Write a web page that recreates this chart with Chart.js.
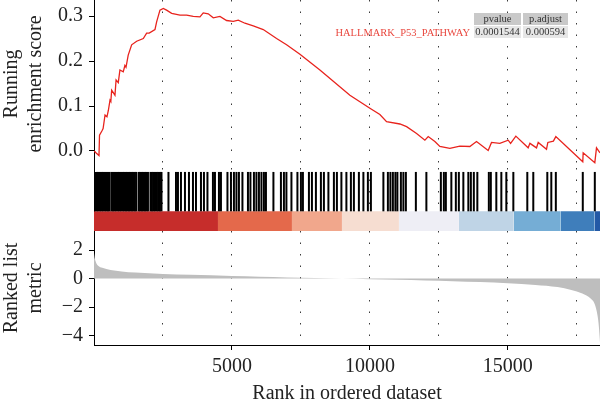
<!DOCTYPE html>
<html>
<head>
<meta charset="utf-8">
<script src="https://cdn.jsdelivr.net/npm/chart.js@4.4.0/dist/chart.umd.min.js"></script>
<style>
  html, body { margin:0; padding:0; background:#fff; }
  #wrap { position:relative; width:600px; height:410px; overflow:hidden; font-family:'Liberation Serif', serif; }
  #wrap canvas { position:absolute; left:0; }
  .cell { position:absolute; height:12px; line-height:12px; font-size:10.5px; color:#333; text-align:center; }
  .setname { position:absolute; right:130px; top:27px; line-height:12px; font-size:10.5px; color:#E9483F; white-space:nowrap; }
</style>
</head>
<body>
<div id="wrap">
  <canvas id="esChart"  width="600" height="168" style="top:0"></canvas>
  <canvas id="hitChart" width="600" height="63"  style="top:168px"></canvas>
  <canvas id="rnkChart" width="600" height="179" style="top:231px"></canvas>
  <div id="tbl"></div>
</div>
<script>
/* ── data ── */
const N_GENES = 18340;

const ES_RANK  = [0, 36, 181, 200, 290, 330, 400, 470, 520, 580, 610, 640, 760, 800, 880, 940, 1060, 1120, 1160, 1240, 1365, 1546, 1787, 1908, 2000, 2210, 2270, 2391, 2512, 2630, 2815, 3116, 3357, 3598, 3840, 3960, 4140, 4323, 4565, 4806, 5048, 5229, 5470, 5772, 6135, 6618, 6980, 7464, 8188, 9275, 10000, 10362, 10604, 11087, 11330, 11692, 11993, 12114, 12355, 12536, 12898, 13260, 13622, 13864, 14287, 14408, 14710, 15012, 15100, 15290, 15736, 15800, 16039, 16100, 16401, 16450, 16650, 16739, 17716, 17730, 18152, 18213, 18340];
const ES_VALUE = [0, -0.002, -0.01, 0.035, 0.045, 0.05, 0.08, 0.076, 0.09, 0.113, 0.11, 0.135, 0.124, 0.158, 0.152, 0.18, 0.176, 0.19, 0.186, 0.213, 0.236, 0.244, 0.25, 0.262, 0.262, 0.27, 0.287, 0.313, 0.317, 0.313, 0.306, 0.302, 0.302, 0.299, 0.298, 0.307, 0.305, 0.296, 0.299, 0.29, 0.288, 0.291, 0.284, 0.278, 0.27, 0.25, 0.236, 0.215, 0.18, 0.124, 0.095, 0.081, 0.065, 0.06, 0.054, 0.039, 0.024, 0.032, 0.021, 0.01, 0.006, 0.011, 0.01, 0.021, 0.001, 0.019, 0.017, 0.024, 0.017, 0.033, 0.007, 0.017, 0.007, 0.019, 0.004, 0.019, 0.022, 0.032, -0.024, -0.004, -0.026, 0.007, -0.004];

const HIT_RANK = [36, 91, 145, 217, 272, 326, 399, 453, 507, 562, 634, 688, 743, 797, 870, 924, 978, 1051, 1105, 1160, 1214, 1268, 1322, 1377, 1431, 1485, 1540, 1630, 1685, 1739, 1793, 1848, 1902, 1956, 2047, 2101, 2156, 2210, 2282, 2337, 2391, 2446,
  2699, 2971, 3043, 3152, 3297, 3442, 3587, 3696, 3877, 3985, 4112, 4311, 4384, 4529, 4601, 4837, 4964, 5072, 5163, 5253, 5380, 5580, 5670, 5797, 5887, 5978, 6069, 6159, 6232, 6503, 6775, 6884, 6974, 7156, 7373, 7500, 7572, 7790, 7899, 8043, 8224, 8333, 8496, 8695, 8804, 8967, 9148, 9311, 9420, 9601, 9764, 9927, 10036,
  10489, 10652, 10743, 10833, 10924, 10996, 11123, 11214, 11304, 11666, 12047, 12572, 12681, 12753, 12952, 13115, 13224, 13387, 13568, 13659, 13767, 13894, 14311, 14383, 14582, 14764, 14945, 15199, 15705, 15922, 16430, 16575, 16739, 17716, 18152];

const METRIC_RANK  = [0, 30, 80, 150, 300, 600, 1000, 1500, 2500, 3500, 5000, 6000, 7000, 8000, 9000, 10000, 11000, 12000, 13000, 14000, 15000, 16000, 16800, 17300, 17700, 18000, 18150, 18250, 18300, 18330, 18340];
const METRIC_VALUE = [1.8, 1.4, 1.1, 0.9, 0.75, 0.6, 0.5, 0.42, 0.32, 0.26, 0.18, 0.13, 0.08, 0.04, 0.0, -0.05, -0.09, -0.14, -0.19, -0.25, -0.33, -0.45, -0.6, -0.8, -1.05, -1.4, -1.8, -2.6, -3.4, -4.2, -4.5];

const BAND_EDGES  = [0, 4493, 7174, 8986, 11051, 13225, 15217, 16920, 18150, 18340];
const BAND_COLORS = ['#C62D2B', '#E4694B', '#F1A78C', '#F6DDD1', '#EEEEF5', '#BFD4E6', '#75ADD5', '#3F7EBB', '#2359A6'];

const GRID_RANKS   = [2500, 5000, 7500, 10000, 12500, 15000, 17500];
const RANK_TICKS   = [5000, 10000, 15000];
const ES_TICKS     = [0, 0.1, 0.2, 0.3];
const METRIC_TICKS = [-4, -2, 0, 2];

const SET_NAME   = 'HALLMARK_P53_PATHWAY';
const TABLE_HEAD = ['pvalue', 'p.adjust'];
const TABLE_ROW  = ['0.0001544', '0.000594'];

/* ── shared styling ── */
const AXIS_W = 94;
const SERIF = "'Liberation Serif', serif";
Chart.defaults.font.family = SERIF;
Chart.defaults.animation = false;

const zip = (xs, ys) => xs.map((x, i) => ({ x, y: ys[i] }));
const minus = v => v < 0 ? '\u2212' + Math.abs(v) : String(v);

function rankAxis(showLabels) {
  return {
    type:'linear', min:0, max:N_GENES,
    afterBuildTicks: s => { s.ticks = GRID_RANKS.map(v => ({ value:v })); },
    afterFit: s => { s.paddingLeft = 0; s.paddingRight = 0; s.height = showLabels ? 65 : 0; },
    grid:{ color:'#3a3a3a', lineWidth:1, drawTicks:showLabels, tickLength:5,
           tickColor: c => (c.tick && RANK_TICKS.includes(c.tick.value)) ? '#000' : 'rgba(0,0,0,0)' },
    border:{ display:showLabels, color:'#000', width:1, dash:[1.5, 10] },
    ticks:{ display:showLabels, color:'#222', padding:5, maxRotation:0, autoSkip:false,
            font:{ family:SERIF, size:20 },
            callback: v => RANK_TICKS.includes(v) ? String(v) : '' },
    title:{ display:showLabels, text:'Rank in ordered dataset', color:'#222',
            font:{ family:SERIF, size:20 }, padding:{ top:0, bottom:4 } }
  };
}

function leftAxis(min, max, tickVals, fmt, title) {
  return {
    position:'left', min, max,
    afterBuildTicks: s => { if (tickVals) s.ticks = tickVals.map(v => ({ value:v })); },
    afterFit: s => { s.width = AXIS_W; s.paddingTop = 0; s.paddingBottom = 0; },
    grid:{ display:!!tickVals, drawOnChartArea:false, tickLength:5, tickColor:'#000' },
    border:{ color:'#000', width:1 },
    ticks:{ display:!!tickVals, color:'#222', padding:6, font:{ family:SERIF, size:20 }, callback: fmt },
    title:{ display:!!title, text:title, color:'#222', font:{ family:SERIF, size:20 }, padding:{ top:0, bottom:0 } }
  };
}

const baseOpts = () => ({
  responsive:false, maintainAspectRatio:false,
  layout:{ padding:0 },
  plugins:{ legend:{ display:false }, tooltip:{ enabled:false } },
  elements:{ point:{ radius:0 } }
});

/* ── running enrichment score ── */
function buildEsChart() {
  const ctx = document.getElementById('esChart').getContext('2d');
  new Chart(ctx, {
    type:'line',
    data:{ datasets:[
      { data:zip(ES_RANK, ES_VALUE), borderColor:'#E8231D', borderWidth:1.3, tension:0, fill:false }
    ]},
    options:{ ...baseOpts(),
      scales:{
        x: rankAxis(false),
        y: leftAxis(-0.0378, 0.3356, ES_TICKS, v => v.toFixed(1), ['Running', 'enrichment score'])
      }
    }
  });
}

/* ── hits + colour band ── */
function buildHitChart() {
  const ctx = document.getElementById('hitChart').getContext('2d');
  const band = BAND_COLORS.map((col, i) => ({
    type:'line',
    data:[{ x:BAND_EDGES[i], y:1 }, { x:BAND_EDGES[i + 1], y:1 }],
    borderWidth:0, backgroundColor:col, fill:'origin', pointRadius:0, order:2
  }));
  const barHalf = c => {
    const y = c.chart.scales.y;
    return (y.getPixelForValue(1) - y.getPixelForValue(3)) / 2;
  };
  new Chart(ctx, {
    type:'scatter',
    data:{ datasets:[
      { data:HIT_RANK.map(r => ({ x:r, y:2 })), pointStyle:'line', rotation:90,
        radius:barHalf, hoverRadius:barHalf, borderColor:'#000', borderWidth:2, order:1 },
      ...band
    ]},
    options:{ ...baseOpts(),
      scales:{
        x: rankAxis(false),
        y: leftAxis(0, 3.2, null, null, null)
      }
    }
  });
}

/* ── ranked list metric ── */
function buildRankChart() {
  const ctx = document.getElementById('rnkChart').getContext('2d');
  new Chart(ctx, {
    type:'line',
    data:{ datasets:[
      { data:zip(METRIC_RANK, METRIC_VALUE), borderWidth:0, borderColor:'#BEBEBE',
        backgroundColor:'#BEBEBE', fill:'origin', cubicInterpolationMode:'monotone' }
    ]},
    options:{ ...baseOpts(),
      scales:{
        x: rankAxis(true),
        y: leftAxis(-4.67, 3.34, METRIC_TICKS, minus, ['Ranked list', 'metric'])
      }
    }
  });
}

/* ── p-value table ── */
function renderTable() {
  const tbl = document.getElementById('tbl');
  const cols = [{ left:474, w:47 }, { left:523, w:45 }];
  let html = `<div class="setname">${SET_NAME}</div>`;
  TABLE_HEAD.forEach((h, i) => {
    html += `<div class="cell" style="left:${cols[i].left}px;width:${cols[i].w}px;top:13px;background:#C9C9C9">${h}</div>`;
  });
  TABLE_ROW.forEach((v, i) => {
    html += `<div class="cell" style="left:${cols[i].left}px;width:${cols[i].w}px;top:26px;background:#E6E6E6">${v}</div>`;
  });
  tbl.innerHTML = html;
}

buildEsChart();
buildHitChart();
buildRankChart();
renderTable();
</script>
</body>
</html>
